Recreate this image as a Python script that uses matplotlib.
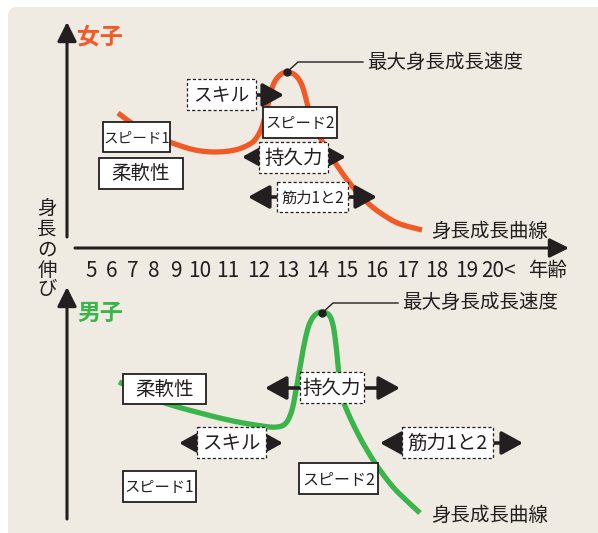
import matplotlib
matplotlib.use('Agg')
import matplotlib.pyplot as plt
import numpy as np
from matplotlib.patches import FancyBboxPatch, Rectangle

JP = ['Noto Sans CJK JP', 'DejaVu Sans']
NUM = ['Liberation Sans Narrow', 'Noto Sans CJK JP', 'DejaVu Sans']

ORANGE = '#F15A24'
GREEN = '#39B54A'
INK = '#231F20'
BG = '#EFEBE3'

# ---------------- data ----------------
age_labels = ['5', '6', '7', '8', '9', '10', '11', '12', '13', '14', '15',
              '16', '17', '18', '19', '20<']
age_pos = [91, 112, 133, 154, 176, 200, 228, 259, 288, 318, 347, 377, 408,
           437, 467, 498]

# girls growth-velocity curve (diagram coordinates)
girl_x = [118, 130, 145, 160, 175, 195, 215, 235, 250, 257, 262, 266, 270,
          274, 280, 287, 295, 301, 305, 308, 311, 316, 322, 328, 336, 345,
          357, 370, 385, 400, 422]
girl_y = [113, 122, 131, 138, 144, 150, 152, 150, 144, 137, 127, 113, 96,
          83, 75, 72, 75, 83, 95, 107, 120, 131, 141, 152, 164, 177,
          192, 205, 216, 224, 230]
girl_peak = (287, 72)

# boys growth-velocity curve
boy_x = [119, 140, 165, 200, 233, 262, 277, 286, 292, 296, 300, 304, 309,
         315, 322, 329, 333, 336, 338, 340, 343, 348, 355, 364, 377, 393,
         407, 420]
boy_y = [382, 392, 403, 413, 421, 426, 427, 423, 410, 390, 368, 345, 325,
         315, 312, 315, 325, 345, 365, 385, 400, 413, 428, 445, 466, 487,
         501, 513]
boy_peak = (322, 313)

# labels: (text, x0, y0, x1, y1, style, fontsize)
girl_boxes = [
    ('スキル', 187, 79, 256, 110, 'dashed', 13.5),
    ('スピード1', 103, 122, 170, 152, 'solid', 10.5),
    ('柔軟性', 99, 158, 183, 189, 'solid', 14),
    ('スピード2', 263, 107, 337, 138, 'solid', 11),
    ('持久力', 259, 142, 328, 173, 'dashed', 14),
    ('筋力1と2', 277, 182, 348, 212, 'dashed', 11),
]
girl_arrows = [  # (x_left, x_right, y, heads)
    (256, 284, 95, 'r'),
    (242, 346, 157, 'lr'),
    (248, 377, 197, 'lr'),
]
boy_boxes = [
    ('柔軟性', 123, 374, 206, 404, 'solid', 14),
    ('スキル', 197, 427, 266, 458, 'dashed', 14),
    ('スピード1', 123, 471, 196, 502, 'solid', 11),
    ('持久力', 300, 372, 364, 403, 'dashed', 14),
    ('筋力1と2', 402, 427, 493, 458, 'dashed', 14),
    ('スピード2', 299, 463, 378, 494, 'solid', 11.5),
]
boy_arrows = [
    (179, 283, 443, 'lr'),
    (265, 400, 388, 'lr'),
    (380, 523, 443, 'lr'),
]


def smooth(xs, ys, n=12):
    """Catmull-Rom rendering of a polyline (drawing aid only)."""
    p = np.column_stack([xs, ys]).astype(float)
    p = np.vstack([p[0], p, p[-1]])
    out = []
    t = np.linspace(0, 1, n, endpoint=False)[:, None]
    for i in range(1, len(p) - 2):
        p0, p1, p2, p3 = p[i - 1], p[i], p[i + 1], p[i + 2]
        seg = 0.5 * ((2 * p1) + (-p0 + p2) * t +
                     (2 * p0 - 5 * p1 + 4 * p2 - p3) * t ** 2 +
                     (-p0 + 3 * p1 - 3 * p2 + p3) * t ** 3)
        out.append(seg)
    out.append(p[-2][None, :])
    out = np.vstack(out)
    return out[:, 0], out[:, 1]


# ---------------- figure ----------------
fig = plt.figure(figsize=(5.98, 5.33), dpi=100)
fig.patch.set_facecolor('white')
ax = fig.add_axes([0, 0, 1, 1])
ax.set_xlim(0, 598)
ax.set_ylim(533, 0)
ax.axis('off')

ax.add_patch(FancyBboxPatch((8, 7), 620, 560, boxstyle='round,pad=0,rounding_size=9',
                            facecolor=BG, edgecolor='none', zorder=0))


def arrow(x0, y0, x1, y1, style='-|>', lw=2.3, hl=0.75, hw=0.45, ms=12, z=3):
    ax.annotate('', xy=(x1, y1), xytext=(x0, y0),
                arrowprops=dict(arrowstyle=f'{style},head_length={hl},head_width={hw}',
                                lw=lw, color=INK, shrinkA=0, shrinkB=0,
                                mutation_scale=ms),
                zorder=z)


# axes arrows
arrow(67, 237, 67, 22, lw=2.2, hl=0.9, hw=0.45, ms=13)
arrow(75, 248, 569, 248, lw=2.2, hl=0.9, hw=0.45, ms=13)
arrow(67, 519, 67, 287, lw=2.2, hl=0.9, hw=0.45, ms=13)

# vertical axis title
for ch, yy in zip('身長の伸び', [209, 229, 250, 270, 290]):
    ax.text(47, yy, ch, fontsize=14, family=JP, color=INK, ha='center',
            va='center', zorder=4)

# age ticks
for lab, xx in zip(age_labels, age_pos):
    ax.text(xx, 271, lab, fontsize=15, family=NUM, color=INK, ha='center',
            va='center', zorder=4)
ax.text(548, 270, '年齢', fontsize=14, family=JP, color=INK, ha='center',
        va='center', zorder=4)

# titles
ax.text(77, 37, '女子', fontsize=16.5, family=JP, color=ORANGE, weight='bold',
        ha='left', va='center', zorder=4)
ax.text(77, 313, '男子', fontsize=16.5, family=JP, color=GREEN, weight='bold',
        ha='left', va='center', zorder=4)

# curves
gx, gy = smooth(girl_x, girl_y)
bx, by = smooth(boy_x, boy_y)
ax.plot(gx, gy, color=ORANGE, lw=3.8, solid_capstyle='butt',
        solid_joinstyle='round', zorder=2)
ax.plot(bx, by, color=GREEN, lw=3.8, solid_capstyle='butt',
        solid_joinstyle='round', zorder=2)

# peaks with leader lines
for (px, py), lab_y in [(girl_peak, 62), (boy_peak, 303)]:
    ax.plot([px, px + 11, px + 76], [py, lab_y, lab_y], color=INK, lw=1.0,
            zorder=5)
    ax.plot([px], [py], 'o', color=INK, ms=5, zorder=6)
    ax.text(px + 80, lab_y, '最大身長成長速度', fontsize=14, family=JP,
            color=INK, ha='left', va='center', zorder=5)

# curve end labels
ax.text(431, 231, '身長成長曲線', fontsize=14, family=JP, color=INK,
        ha='left', va='center', zorder=5)
ax.text(431, 515, '身長成長曲線', fontsize=14, family=JP, color=INK,
        ha='left', va='center', zorder=5)

# arrows under boxes
for xl, xr, yy, heads in girl_arrows + boy_arrows:
    style = '<|-|>' if heads == 'lr' else '-|>'
    arrow(xl, yy, xr, yy, style=style, lw=2.6, hl=1.0, hw=0.55, ms=13, z=3)

# boxes
for lab, x0, y0, x1, y1, st, fs in girl_boxes + boy_boxes:
    if st == 'solid':
        ax.add_patch(Rectangle((x0, y0), x1 - x0, y1 - y0, facecolor='white',
                               edgecolor=INK, lw=1.3, zorder=7))
    else:
        ax.add_patch(Rectangle((x0, y0), x1 - x0, y1 - y0, facecolor='white',
                               edgecolor=INK, lw=0.9, linestyle=(0, (2.5, 1.8)),
                               zorder=7))
    ax.text((x0 + x1) / 2, (y0 + y1) / 2 + 1, lab, fontsize=fs, family=JP,
            color=INK, ha='center', va='center', zorder=8)

fig.savefig('out.png', dpi=100, facecolor='white')
